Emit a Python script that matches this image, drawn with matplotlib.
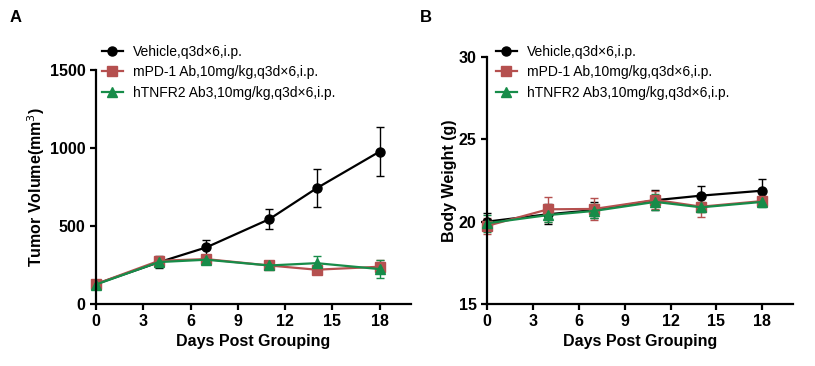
import numpy as np
import matplotlib
matplotlib.use("Agg")
import matplotlib.pyplot as plt
from matplotlib.lines import Line2D

plt.rcParams['font.family'] = ['Liberation Sans Narrow', 'Liberation Sans', 'DejaVu Sans']

# data
days = [0, 4, 7, 11, 14, 18]
labels = ["Vehicle,q3d×6,i.p.",
          "mPD-1 Ab,10mg/kg,q3d×6,i.p.",
          "hTNFR2 Ab3,10mg/kg,q3d×6,i.p."]

tv_vehicle = [128, 268, 363, 544, 742, 977]
tv_vehicle_err = [10, 40, 49, 66, 122, 156]
tv_pd1 = [128, 277, 288, 247, 220, 239]
tv_pd1_err = [10, 25, 20, 20, 20, 40]
tv_tnfr2 = [125, 269, 284, 247, 262, 224]
tv_tnfr2_err = [10, 30, 20, 20, 49, 56]

bw_vehicle = [20.0, 20.45, 20.7, 21.3, 21.58, 21.88]
bw_vehicle_err = [0.5, 0.6, 0.5, 0.6, 0.6, 0.69]
bw_pd1 = [19.74, 20.75, 20.77, 21.32, 20.91, 21.25]
bw_pd1_err = [0.5, 0.77, 0.65, 0.57, 0.65, 0.3]
bw_tnfr2 = [19.9, 20.4, 20.65, 21.2, 20.87, 21.2]
bw_tnfr2_err = [0.5, 0.4, 0.4, 0.5, 0.3, 0.3]

colors = ['black', '#b5504f', '#178c49']
markers = ['o', 's', '^']

fig = plt.figure(figsize=(8.15, 3.66), dpi=100)
axA = fig.add_axes([0.1178, 0.1694, 0.3865, 0.639])
axB = fig.add_axes([0.5975, 0.1694, 0.3755, 0.675])


def draw(ax, series, errs, ylim, yticks, ylabel, pad):
    for y, e, c, m in zip(series, errs, colors, markers):
        ax.errorbar(days, y, yerr=e, color=c, marker=m, markersize=6.5,
                    linewidth=1.6, elinewidth=1.0, capsize=3, capthick=1.0,
                    clip_on=False)
    ax.set_xlim(0, 20)
    ax.set_ylim(*ylim)
    ax.set_xticks([0, 3, 6, 9, 12, 15, 18])
    ax.set_yticks(yticks)
    for s in ['top', 'right']:
        ax.spines[s].set_visible(False)
    for s in ['left', 'bottom']:
        ax.spines[s].set_linewidth(1.6)
    ax.tick_params(width=1.6, length=4, labelsize=11.5)
    for t in ax.get_xticklabels() + ax.get_yticklabels():
        t.set_fontweight('bold')
    ax.set_xlabel('Days Post Grouping', fontsize=11.5, fontweight='bold', labelpad=3)
    ax.set_ylabel(ylabel, fontsize=11.5, fontweight='bold', labelpad=pad)


draw(axA, [tv_vehicle, tv_pd1, tv_tnfr2], [tv_vehicle_err, tv_pd1_err, tv_tnfr2_err],
     (0, 1500), [0, 500, 1000, 1500], 'Tumor Volume(mm$^3$)', 2)
draw(axB, [bw_vehicle, bw_pd1, bw_tnfr2], [bw_vehicle_err, bw_pd1_err, bw_tnfr2_err],
     (15, 30), [15, 20, 25, 30], 'Body Weight (g)', 1)

handles = [Line2D([], [], color=c, marker=m, markersize=6.5, linewidth=1.6)
           for c, m in zip(colors, markers)]

for ax, x0 in [(axA, 102 / 815), (axB, 496 / 815)]:
    ax.legend(handles, labels, loc='upper left', bbox_to_anchor=(x0, 1 - 45 / 366),
              bbox_transform=fig.transFigure, frameon=False, fontsize=10,
              handlelength=1.5, handletextpad=0.7, labelspacing=0.45,
              borderaxespad=0, borderpad=0)

fig.text(10 / 815, 1 - 17 / 366, 'A', fontsize=12, fontweight='bold', va='center')
fig.text(420 / 815, 1 - 17 / 366, 'B', fontsize=12, fontweight='bold', va='center')

fig.savefig('out.png', dpi=100)
